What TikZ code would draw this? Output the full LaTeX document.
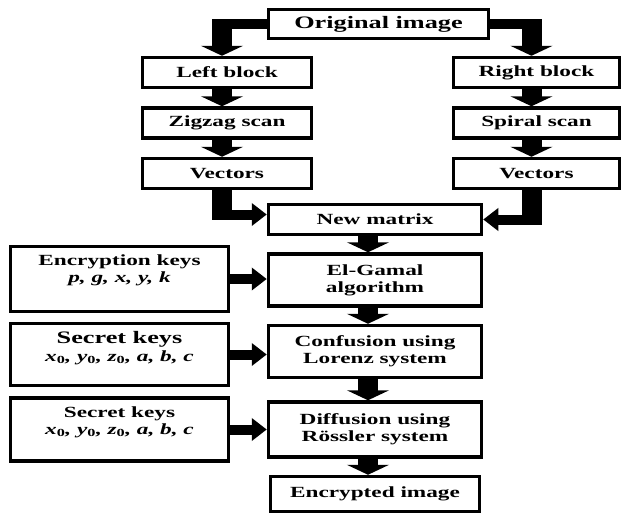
\documentclass[tikz,border=0pt]{standalone}
\usepackage{fontspec}
\setmainfont{Liberation Serif}[FakeStretch=1.5]
\usetikzlibrary{positioning,arrows.meta}
\newcommand{\kidx}[1]{\textsubscript{\upshape #1}}

\begin{document}
\begin{tikzpicture}[
  x=1pt,y=1pt,
  font=\fontsize{15.5}{17}\selectfont\bfseries,
  box/.style={draw,line width=3.5pt,inner sep=0pt,align=center},
  side/.style={box,minimum width=169pt,minimum height=30pt},
  mid/.style={box,minimum width=213pt,minimum height=52pt},
  keybox/.style={box,minimum width=218pt,minimum height=63pt},
  keytxt/.style={inner sep=0pt,align=center},
  big/.style={font=\fontsize{17.5}{19}\selectfont\bfseries},
  vflow/.style={line width=20pt,-{Triangle[width=42pt,length=10pt]}},
  vshaft/.style={line width=20pt},
  hflow/.style={line width=10pt,-{Triangle[width=22pt,length=15pt]}},
  hshaft/.style={line width=10pt},
]
\useasboundingbox (0,0) rectangle (623,-514);

% --- source ---
\node[box,big,minimum width=220pt,minimum height=29pt] (orig) at (378.5,-24) {Original image};

% --- left branch ---
\node[side] (lblk) at (227,-72.5) {Left block};
\node[side,below=17pt of lblk] (zig) {Zigzag scan};
\node[side,below=17pt of zig]  (vecL) {Vectors};

% --- right branch ---
\node[side,minimum width=166pt] (rblk) at (536.5,-72.5) {Right block};
\node[side,minimum width=166pt,below=17pt of rblk] (spiral) {Spiral scan};
\node[side,minimum width=166pt,below=17pt of spiral] (vecR) {Vectors};

% --- main column ---
\node[mid,minimum height=30pt] (newmat) at (375,-219.5) {New matrix};
\node[mid,below=16pt of newmat] (elgamal) {El-Gamal\\algorithm};
\node[mid,below=16pt of elgamal] (conf) {Confusion using\\Lorenz system};
\node[mid,minimum height=55pt,below=21pt of conf] (diff) {Diffusion using\\Rössler system};
\node[mid,minimum width=209pt,minimum height=35pt,below=16pt of diff] (encimg) {Encrypted image};

% --- key boxes ---
\node[keybox,minimum height=65pt] (enc) at (119.5,-279) {};
\node[keytxt,below=10pt of enc.north] (enctxt) {Encryption keys\\\textit{p, g, x, y, k}};
\node[keybox,minimum height=62pt] (sk1) at (119.5,-354.5) {};
\node[keytxt,below=9pt of sk1.north] (sk1txt) {{\fontsize{17.5}{19}\selectfont Secret keys}\\[1pt]\textit{x\kidx{0}, y\kidx{0}, z\kidx{0}, a, b, c}};
\node[keybox] (sk2) at (119.5,-429.5) {};
\node[keytxt,below=10pt of sk2.north] (sk2txt) {Secret keys\\\textit{x\kidx{0}, y\kidx{0}, z\kidx{0}, a, b, c}};

% --- split from source ---
\coordinate (tl) at ([xshift=-5pt]lblk.north |- orig.west);
\coordinate (tr) at ([xshift=-5pt]rblk.north |- orig.east);
\draw[hshaft] (orig.west) -- ([xshift=-10pt]tl);
\draw[vflow] ([yshift=5pt]tl) -- ([xshift=-5pt]lblk.north);
\draw[hshaft] (orig.east) -- ([xshift=10pt]tr);
\draw[vflow] ([yshift=5pt]tr) -- ([xshift=-5pt]rblk.north);

% --- column arrows ---
\foreach \a/\b in {lblk/zig,zig/vecL,rblk/spiral,spiral/vecR}
  \draw[vflow] ([xshift=-5pt]\a.south) -- ([xshift=-5pt]\b.north);
\foreach \a/\b in {newmat/elgamal,elgamal/conf,conf/diff,diff/encimg}
  \draw[vflow] ([xshift=-7pt]\a.south) -- ([xshift=-7pt]\b.north);

% --- merge into new matrix ---
\coordinate (vl) at ([xshift=-5pt]vecL.south);
\coordinate (nl) at ([yshift=5pt]newmat.west);
\coordinate (blc) at (vl |- nl);
\draw[vshaft] (vl) -- ([yshift=-5pt]blc);
\draw[hflow] ([xshift=-10pt]blc) -- (nl);
\coordinate (vr) at ([xshift=-5pt]vecR.south);
\coordinate (brc) at (vr |- newmat.east);
\draw[vshaft] (vr) -- ([yshift=-5pt]brc);
\draw[hflow] ([xshift=10pt]brc) -- (newmat.east);

% --- keys in ---
\draw[hflow] (enc.east) -- (enc.east -| elgamal.west);
\draw[hflow] (sk1.east) -- (sk1.east -| conf.west);
\draw[hflow] (sk2.east) -- (sk2.east -| diff.west);

\end{tikzpicture}
\end{document}
